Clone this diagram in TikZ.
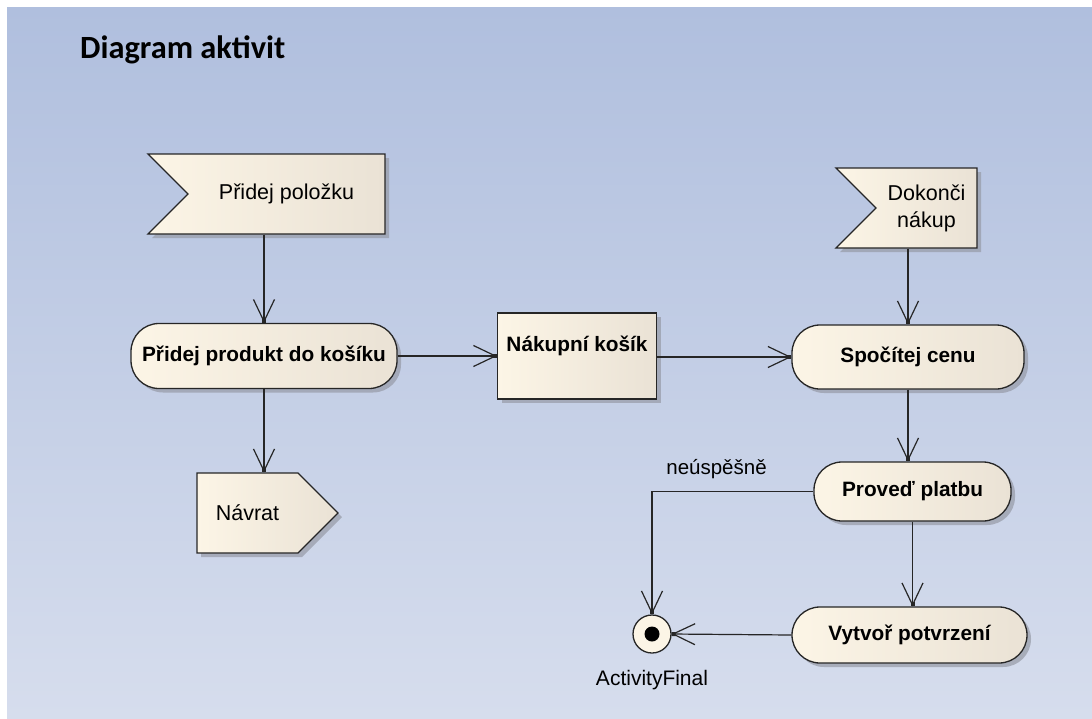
\documentclass[tikz,border=0pt]{standalone}
\usepackage{fontspec}
\setmainfont{Liberation Sans}
\newfontfamily\titlefont{Carlito}
\usetikzlibrary{shapes.symbols,arrows.meta,shadows,positioning}

\definecolor{bgtop}{RGB}{176,191,222}
\definecolor{bgbottom}{RGB}{214,221,237}
\definecolor{creamleft}{RGB}{252,245,230}
\definecolor{creamright}{RGB}{234,226,213}
\definecolor{shadowgray}{RGB}{150,154,166}

\begin{document}
\begin{tikzpicture}[x=1pt,y=-1pt,
	base/.style={draw=black!85,line width=1.3pt,left color=creamleft,right color=creamright,
		drop shadow={shadow xshift=4pt,shadow yshift=-4pt,fill=shadowgray,opacity=.7}},
	action/.style={base,rectangle,rounded corners=28pt,inner sep=0pt,font=\bfseries\fontsize{20.8}{24}\selectfont},
	objbox/.style={base,rectangle,inner sep=0pt},
	accept/.style={base,signal,signal from=west,signal to=nowhere,signal pointer angle=90,inner sep=0pt,align=center,font=\fontsize{21.5}{27}\selectfont},
	send/.style={base,signal,signal to=east,signal from=nowhere,signal pointer angle=90,inner sep=0pt,font=\fontsize{21.5}{27}\selectfont},
	flow/.style={draw=black!85,line width=1.2pt,-{Straight Barb[length=22pt,width=21pt,sep=-4pt]Square[length=4pt,width=4pt]}}]
	\useasboundingbox (0,0) rectangle (1092,718);
	\fill[white] (0,0) rectangle (1092,718);
	\fill[top color=bgtop,bottom color=bgbottom] (7,7) rectangle (1092,718);
	\node[anchor=base west,inner sep=0pt,font=\titlefont\bfseries\fontsize{32.4}{38}\selectfont] (title) at (80,58) {Diagram aktivit};
	\node[accept,minimum width=237pt,minimum height=80pt] (addItem) at (286.5,194) {Přidej položku};
	\node[action,minimum width=266pt,minimum height=65pt] (addProduct) at (264,356) {Přidej produkt do košíku};
	\node[send,minimum width=141pt,minimum height=80pt] (back) at (247.5,513) {Návrat};
	\node[objbox,minimum width=159pt,minimum height=86pt,
		label={[anchor=base,yshift=-39pt,font=\bfseries\fontsize{20.8}{24}\selectfont]north:Nákupní košík}] (cart) at (577,356) {};
	\node[accept,minimum width=141pt,minimum height=80pt] (finish) at (926.5,208) {Dokonči\\nákup};
	\node[action,minimum width=232pt,minimum height=64pt] (price) at (908,357) {Spočítej cenu};
	\node[action,minimum width=197pt,minimum height=59pt] (pay) at (912.5,491.5) {Proveď platbu};
	\node[action,minimum width=235pt,minimum height=56pt] (confirm) at (909.5,635) {Vytvoř potvrzení};
	\node[circle,draw=black!85,line width=1.3pt,fill=creamleft,minimum size=38pt,inner sep=0pt,
		path picture={\fill[black] (path picture bounding box.center) circle (7.5pt);},
		label={[font=\fontsize{21}{25}\selectfont,label distance=13pt]below:ActivityFinal}] (final) at (652,634) {};
	\draw[flow] (addProduct.north |- addItem.south) -- (addProduct.north);
	\draw[flow] (addProduct.south) -- (addProduct.south |- back.north);
	\draw[flow] (addProduct.east) -- (addProduct.east -| cart.west);
	\draw[flow] (cart.east |- price.west) -- (price.west);
	\draw[flow] (price.north |- finish.south) -- (price.north);
	\draw[flow] (price.south) -- (price.south |- pay.north);
	\draw[flow] (pay.south) -- (pay.south |- confirm.north);
	\draw[flow] (confirm.west) -- (final.east);
	\draw[flow] (pay.west) -| node[pos=0.3,above=9pt,font=\fontsize{20.5}{24}\selectfont] {neúspěšně} (final.north);
\end{tikzpicture}
\end{document}
